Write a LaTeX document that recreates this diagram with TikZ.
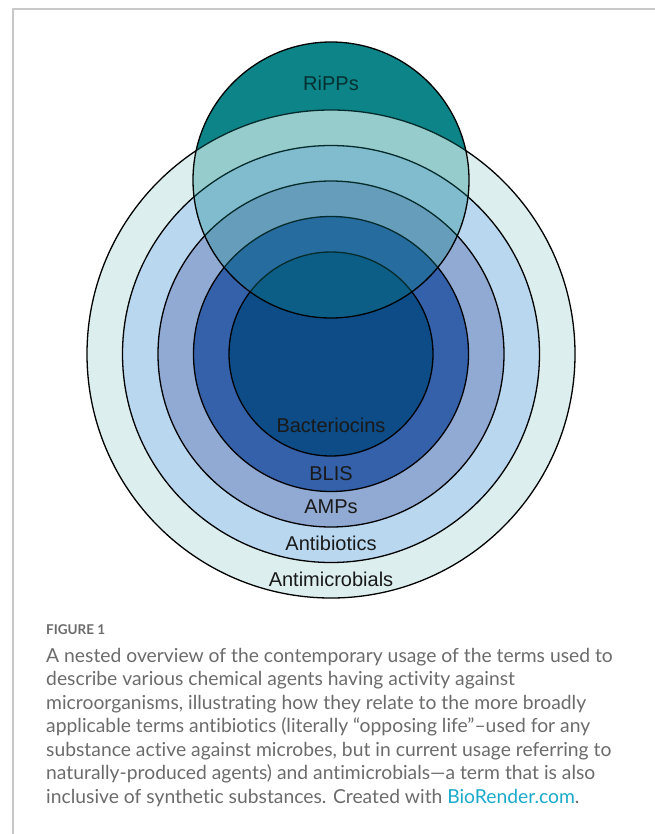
\documentclass[tikz,border=0pt]{standalone}
\usepackage{fontspec}
\setmainfont{Liberation Sans}
\newfontfamily\capfont[Ligatures=NoCommon]{Lato}
\usetikzlibrary{positioning}

\definecolor{ripps}{HTML}{0D8588}
\definecolor{antimicro}{HTML}{DCEFEE}
\definecolor{antibio}{HTML}{B9D8F0}
\definecolor{amps}{HTML}{91AAD3}
\definecolor{blis}{HTML}{3461AA}
\definecolor{bacterio}{HTML}{0D4C86}
\definecolor{capgray}{HTML}{6B6B6B}
\definecolor{linkcyan}{HTML}{1BAACB}
\definecolor{framegray}{HTML}{C8C8C8}

\tikzset{
    ring/.style = {draw=black, line width=1.3bp},
    term/.style = {font=\fontsize{20bp}{24bp}\selectfont, text=black!90, inner sep=0pt, anchor=base},
    caption/.style = {font=\capfont\fontsize{19.3bp}{23.5bp}\selectfont, text=capgray,
        inner sep=0pt, align=left, anchor=north west}
}

\begin{document}
\begin{tikzpicture}[x=1bp, y=-1bp]
        \useasboundingbox (0, 0) rectangle (655, 834);

        \coordinate (O) at (331, 354);
        \coordinate (R) at (331, 180);

        \draw[framegray, line width=1.5bp] (655, 9) -- (13, 9) -- (13, 834);

        \fill[ripps] (R) circle (138);
        \filldraw[ring, fill=antimicro] (O) circle (244);
        \filldraw[ring, fill=antibio] (O) circle (208.5);
        \filldraw[ring, fill=amps] (O) circle (173);
        \filldraw[ring, fill=blis] (O) circle (137.5);
        \filldraw[ring, fill=bacterio] (O) circle (102);
        \fill[ripps, fill opacity=.33] (R) circle (138);
        \draw[ring] (R) circle (138);

        \node[term, text=ripps!35!black] (rippsLabel) at (331, 90) {RiPPs};
        \node[term] (bacterioLabel) at (331, 432) {Bacteriocins};
        \node[term] (blisLabel) at (331, 480) {BLIS};
        \node[term] (ampsLabel) at (331, 513) {AMPs};
        \node[term] (antibioLabel) at (331, 550) {Antibiotics};
        \node[term] (antimicroLabel) at (331, 586) {Antimicrobials};

        \node[font=\capfont\bfseries\fontsize{13.5bp}{16bp}\selectfont, text=capgray,
            inner sep=0pt, anchor=base west] (figLabel) at (46, 634) {FIGURE 1};
        \node[caption] (figCaption) at (46, 648) {A nested overview of the contemporary usage of the terms used to\\
            describe various chemical agents having activity against\\
            microorganisms, illustrating how they relate to the more broadly\\
            applicable terms antibiotics (literally “opposing life”–used for any\\
            substance active against microbes, but in current usage referring to\\
            naturally-produced agents) and antimicrobials—a term that is also\\
            inclusive of synthetic substances. Created with \textcolor{linkcyan}{BioRender.com}.};
\end{tikzpicture}
\end{document}
